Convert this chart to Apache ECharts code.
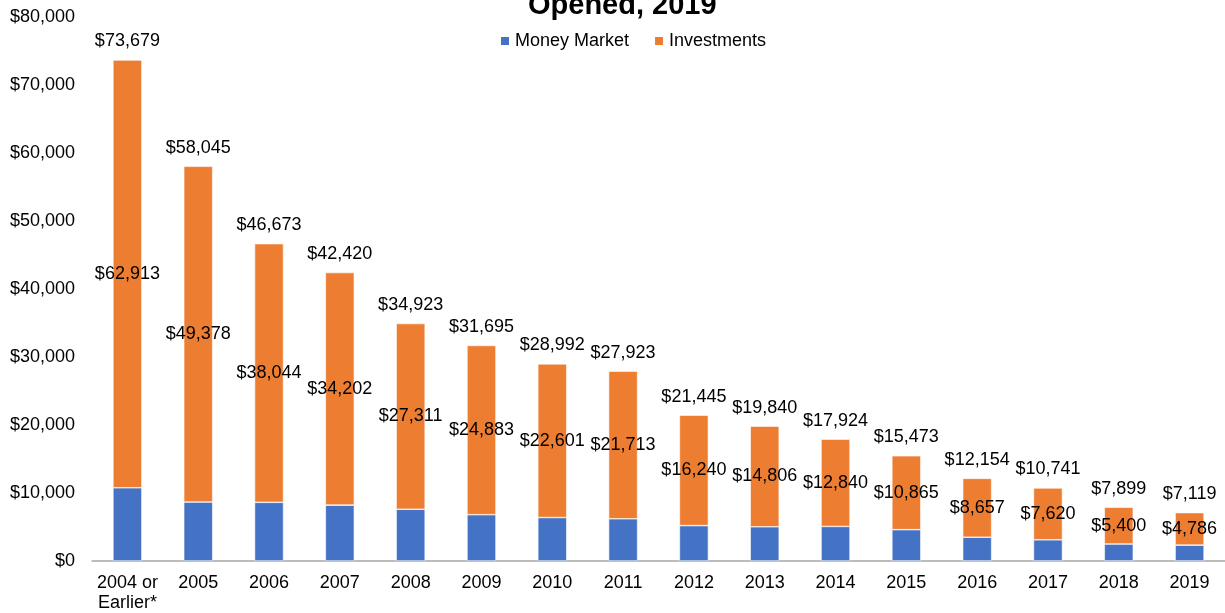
<!DOCTYPE html>
<html><head><meta charset="utf-8">
<script src="https://cdn.jsdelivr.net/npm/echarts@6/dist/echarts.min.js"></script>
<style>html,body{margin:0;padding:0;background:#fff}#c{width:1225px;height:613px}</style>
</head><body><div id="c"></div>
<script>
const categories = ['2004 or\nEarlier*','2005','2006','2007','2008','2009','2010','2011','2012','2013','2014','2015','2016','2017','2018','2019'];
const totals = [73679,58045,46673,42420,34923,31695,28992,27923,21445,19840,17924,15473,12154,10741,7899,7119];
const investments = [62913,49378,38044,34202,27311,24883,22601,21713,16240,14806,12840,10865,8657,7620,5400,4786];
const moneyMarket = [10766,8667,8629,8218,7612,6812,6391,6210,5205,5034,5084,4608,3497,3121,2499,2333];
const yTicks = [0,10000,20000,30000,40000,50000,60000,70000,80000];

const fmt = v => '$' + Math.round(v).toLocaleString('en-US');
const FONT = 'Liberation Sans, Arial, sans-serif';
const FS = 18;

const chart = echarts.init(document.getElementById('c'), null, {renderer:'canvas'});
chart.setOption({
  animation:false,
  backgroundColor:'#fff',
  textStyle:{fontFamily:FONT},
  title:{text:'Opened, 2019', left:523, top:-14,
    textStyle:{fontFamily:FONT, fontWeight:'bold', fontSize:29, color:'#000'}},
  legend:{data:['Money Market','Investments'], top:27, left:494, itemWidth:10, itemHeight:10, itemGap:24,
    icon:'rect', textStyle:{fontFamily:FONT, fontSize:FS, color:'#000'}},
  grid:{left:92, right:0, top:17, bottom:51, containLabel:false},
  xAxis:{type:'category', data:categories,
    axisLine:{lineStyle:{color:'#a6a6a6', width:1.5}}, axisTick:{show:false},
    axisLabel:{color:'#000', fontSize:FS, fontFamily:FONT, margin:12, lineHeight:20, interval:0}},
  yAxis:{type:'value', min:yTicks[0], max:yTicks[yTicks.length-1], interval:10000,
    splitLine:{show:false}, axisLine:{show:false}, axisTick:{show:false},
    axisLabel:{color:'#000', fontSize:FS, fontFamily:FONT, margin:17, formatter:v=>fmt(v)}},
  series:[
    {name:'Money Market', type:'bar', stack:'s', data:moneyMarket, barWidth:29,
      itemStyle:{color:'#4472C4', borderColor:'#fff', borderWidth:0.6}},
    {name:'Investments', type:'bar', stack:'s', data:investments, barWidth:29,
      itemStyle:{color:'#ED7D31', borderColor:'#fff', borderWidth:0.6},
      label:{show:true, position:'inside', color:'#000', fontSize:FS, fontFamily:FONT, formatter:p=>fmt(p.value)}},
    {name:'Total', type:'line', data:totals, symbol:'circle', symbolSize:1, itemStyle:{opacity:0},
      lineStyle:{opacity:0}, silent:true,
      label:{show:true, position:'top', distance:9, color:'#000', fontSize:FS, fontFamily:FONT, opacity:1, formatter:p=>fmt(p.value)}}
  ]
});
</script></body></html>
